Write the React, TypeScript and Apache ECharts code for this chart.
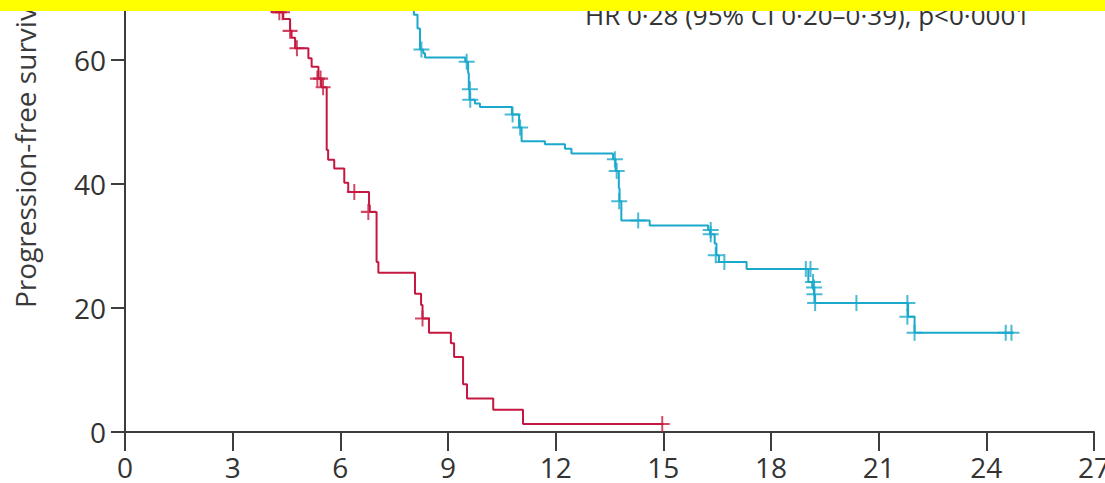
import React, { useEffect, useRef } from "react";
import * as echarts from "echarts";

// Time axis (months) and survival axis (%)
const xMin = 0;
const xMax = 27;
const xInterval = 3;
const yMin = 0;
const yMax = 100;
const yInterval = 20;
const yVisibleLabelMax = 60; // labels above this lie outside the cropped picture

// Kaplan-Meier curve, control group (red): [month, % progression-free after event]
const redCurve: [number, number][] = [
  [0, 100], [1.0, 98.4], [1.9, 95.2], [2.4, 92.0], [2.8, 88.8], [3.1, 85.5],
  [3.4, 82.3], [3.6, 79.0], [3.8, 75.8], [3.95, 72.6], [4.05, 69.4], [4.08, 67.7],
  [4.41, 66.6], [4.6, 64.7], [4.64, 63.6], [4.74, 61.9], [5.11, 60.3], [5.2, 58.9],
  [5.39, 57.0], [5.47, 55.6], [5.62, 45.5], [5.66, 43.9], [5.83, 42.5], [6.11, 40.2],
  [6.22, 38.7], [6.8, 36.6], [6.82, 35.5], [7.01, 27.4], [7.06, 25.7], [8.08, 22.3],
  [8.25, 20.5], [8.29, 18.3], [8.47, 16.0], [9.08, 14.3], [9.17, 12.1], [9.42, 7.7],
  [9.53, 5.4], [10.26, 3.6], [11.09, 1.3], [15.0, 1.3],
];
const redCensored: [number, number][] = [
  [4.3, 67.7], [4.39, 67.7], [4.6, 64.7], [4.79, 61.9], [5.36, 57.0], [5.45, 57.0],
  [5.52, 55.6], [6.39, 38.7], [6.78, 35.5], [8.29, 18.3], [14.97, 1.3],
];

// Kaplan-Meier curve, experimental group (blue)
const blueCurve: [number, number][] = [
  [0, 100], [1.8, 98.4], [2.8, 96.8], [3.7, 93.5], [4.2, 90.3], [5.0, 87.1],
  [5.6, 83.9], [6.0, 80.6], [6.6, 77.4], [7.1, 74.2], [7.7, 70.5], [8.05, 67.3],
  [8.15, 65.1], [8.22, 61.7], [8.31, 61.1], [8.36, 60.4], [9.48, 59.7], [9.56, 57.9],
  [9.58, 55.3], [9.6, 53.6], [9.75, 53.0], [9.89, 52.4], [10.78, 51.2], [10.98, 49.1],
  [11.05, 46.9], [11.7, 46.4], [12.26, 45.7], [12.44, 44.9], [13.6, 44.0], [13.67, 42.1],
  [13.76, 39.3], [13.78, 37.2], [13.83, 34.1], [14.62, 33.3], [16.25, 32.6], [16.3, 31.9],
  [16.43, 30.4], [16.48, 28.5], [16.55, 27.4], [17.32, 26.3], [19.04, 24.2], [19.15, 23.3],
  [19.2, 22.2], [19.22, 20.8], [21.82, 18.6], [22.0, 16.0], [24.75, 16.0],
];
const blueCensored: [number, number][] = [
  [8.26, 61.7], [9.52, 59.7], [9.61, 55.3], [9.62, 53.6], [10.8, 51.2], [11.01, 49.1],
  [13.65, 44.0], [13.7, 42.1], [13.77, 37.2], [14.3, 34.1], [16.32, 32.6], [16.32, 31.9],
  [16.46, 28.5], [16.7, 27.4], [18.97, 26.3], [19.1, 26.3], [19.17, 24.2], [19.2, 23.3],
  [19.21, 22.2], [19.23, 20.8], [20.38, 20.8], [21.8, 20.8], [21.8, 18.6], [22.0, 16.0],
  [24.54, 16.0], [24.7, 16.0],
];

const annotationText = "HR 0·28 (95% CI 0·20–0·39), p<0·0001";
const yAxisTitle = "Progression-free survival (%)";

const RED = "#c5173f";
const BLUE = "#1ba9cb";
const AXIS = "#3d3d3d";
const FONT = "'Open Sans', 'Noto Sans', sans-serif";
const PLUS = "path://M7,0L7,14M0,7L14,7";

export default function App() {
  const ref = useRef<HTMLDivElement>(null);

  useEffect(() => {
    if (!ref.current) return;
    const chart = echarts.init(ref.current, undefined, { renderer: "svg" });
    chart.setOption({
      animation: false,
      backgroundColor: "#ffffff",
      grid: {
        left: 125,
        right: 11,
        top: -188,
        bottom: 51,
        containLabel: false,
        outerBoundsMode: "none",
      },
      xAxis: {
        type: "value",
        min: xMin,
        max: xMax,
        interval: xInterval,
        axisLine: { show: true, lineStyle: { color: AXIS, width: 2 } },
        axisTick: { show: true, length: 19, lineStyle: { color: AXIS, width: 2 } },
        axisLabel: {
          show: true,
          margin: 21,
          color: "#333",
          fontSize: 28,
          fontFamily: FONT,
          showMinLabel: true,
          showMaxLabel: true,
        },
        splitLine: { show: false },
      },
      yAxis: {
        type: "value",
        min: yMin,
        max: yMax,
        interval: yInterval,
        axisLine: { show: true, lineStyle: { color: AXIS, width: 2 } },
        axisTick: { show: true, length: 14, lineStyle: { color: AXIS, width: 2 } },
        axisLabel: {
          show: true,
          margin: 19,
          color: "#333",
          fontSize: 28,
          fontFamily: FONT,
          formatter: (v: number) => (v <= yVisibleLabelMax ? String(v) : ""),
        },
        splitLine: { show: false },
      },
      series: [
        {
          type: "line",
          data: redCurve,
          step: "end",
          symbol: "none",
          lineStyle: { color: RED, width: 2 },
          silent: true,
        },
        {
          type: "line",
          data: blueCurve,
          step: "end",
          symbol: "none",
          lineStyle: { color: BLUE, width: 2 },
          silent: true,
        },
        {
          type: "scatter",
          data: redCensored,
          symbol: PLUS,
          symbolSize: [15, 16],
          itemStyle: { color: RED, borderColor: RED, borderWidth: 2 },
          silent: true,
        },
        {
          type: "scatter",
          data: blueCensored,
          symbol: PLUS,
          symbolSize: [16, 16],
          itemStyle: { color: BLUE, borderColor: BLUE, borderWidth: 2 },
          silent: true,
        },
      ],
      graphic: [
        {
          type: "text",
          x: 25,
          y: 308,
          rotation: Math.PI / 2,
          style: {
            text: yAxisTitle,
            fill: "#3a3a3a",
            font: `28px ${FONT}`,
            textAlign: "left",
            textVerticalAlign: "middle",
          },
          z: 50,
        },
        {
          type: "text",
          x: 585,
          y: 15,
          style: {
            text: annotationText,
            fill: "#333",
            font: `26px ${FONT}`,
            textAlign: "left",
            textVerticalAlign: "middle",
          },
          z: 50,
        },
        {
          type: "rect",
          shape: { x: 0, y: 0, width: 1105, height: 11 },
          style: { fill: "#ffff00" },
          z: 100,
        },
      ],
    });
    return () => chart.dispose();
  }, []);

  return (
    <div
      ref={ref}
      style={{ position: "fixed", left: 0, top: 0, width: 1105, height: 483 }}
    />
  );
}
